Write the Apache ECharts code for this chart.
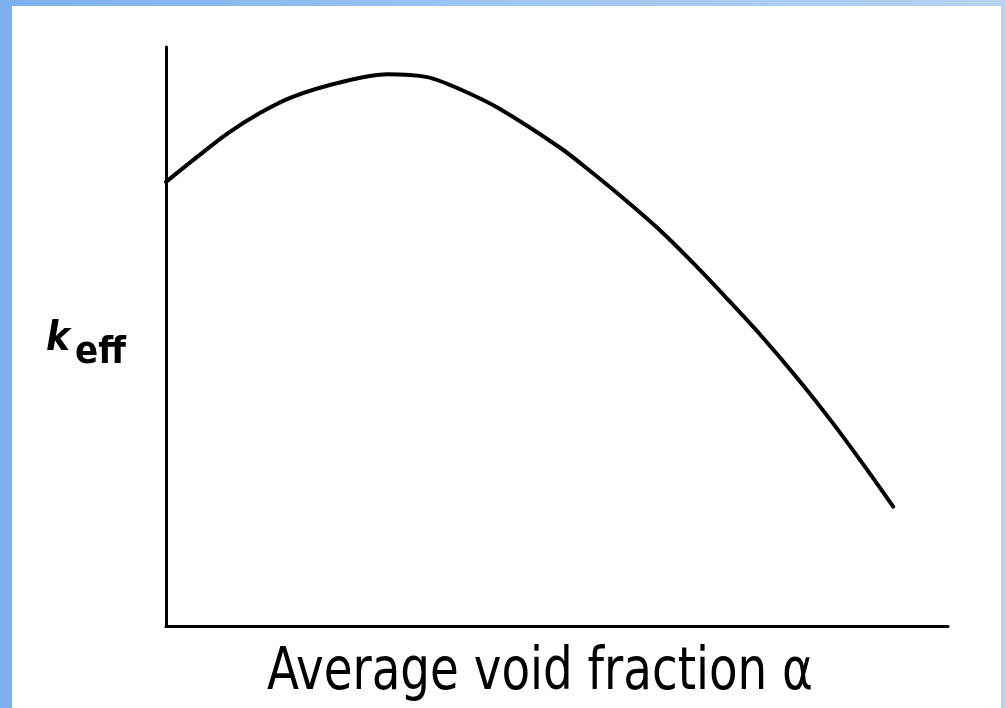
<!DOCTYPE html>
<html>
<head>
<meta charset="utf-8">
<script src="https://cdn.jsdelivr.net/npm/echarts@6/dist/echarts.min.js"></script>
<style>
html, body { margin: 0; padding: 0; }
#main { width: 1005px; height: 708px; }
</style>
</head>
<body>
<div id="main"></div>
<script>
"use strict";
// void fraction (0..100, axis units) and k_eff (0..100, relative)
var voidFrac = [0, 3.5, 7.8, 12.0, 16.2, 22.6, 28.3, 33.4, 37.6, 42.7, 50.4, 54.6, 58.9, 63.2, 67.4, 71.7, 76.0, 81.1, 85.3, 89.6, 93.0];
var kEff = [76.7, 80.5, 85.0, 88.6, 91.4, 94.0, 95.3, 94.8, 92.7, 89.3, 82.6, 78.2, 73.4, 68.3, 62.7, 56.6, 50.3, 42.2, 35.0, 27.1, 20.6];
var xTitle = 'Average void fraction \u03b1';

var pts = [];
for (var i = 0; i < voidFrac.length; i++) {
    pts.push([voidFrac[i], kEff[i]]);
}

var dom = document.getElementById('main');
var myChart = echarts.init(dom);
var option = {
    animation: false,
    backgroundColor: new echarts.graphic.LinearGradient(0, 0, 1, 0, [
        {offset: 0, color: '#7db0ee'},
        {offset: 0.5, color: '#9cc6f4'},
        {offset: 1, color: '#b6d2f0'}
    ]),
    grid: {left: 166, right: 57, top: 47, bottom: 82},
    xAxis: {
        type: 'value', min: 0, max: 100,
        axisLine: {show: true, lineStyle: {color: '#000', width: 3}},
        axisTick: {show: false}, axisLabel: {show: false}, splitLine: {show: false}
    },
    yAxis: {
        type: 'value', min: 0, max: 100,
        axisLine: {show: true, lineStyle: {color: '#000', width: 3}},
        axisTick: {show: false}, axisLabel: {show: false}, splitLine: {show: false}
    },
    graphic: [
        {type: 'rect', z: -10, silent: true, shape: {x: 12, y: 6, width: 989, height: 702}, style: {fill: '#fff'}},
        {type: 'text', left: 46, top: 320, style: {text: 'k', font: 'italic bold 40px "DejaVu Sans Condensed"', fill: '#000'}},
        {type: 'text', left: 75, top: 334, style: {text: 'eff', font: 'bold 38px "DejaVu Sans Condensed"', fill: '#000'}},
        {type: 'text', x: 540, y: 674, scaleY: 1.13, style: {text: xTitle, font: '52px "DejaVu Sans Condensed"', fill: '#000', align: 'center', verticalAlign: 'middle'}}
    ],
    series: [{
        type: 'line',
        data: pts,
        smooth: 0.3,
        showSymbol: false,
        lineStyle: {color: '#000', width: 4, cap: 'round'}
    }]
};
myChart.setOption(option, true);
</script>
</body>
</html>
